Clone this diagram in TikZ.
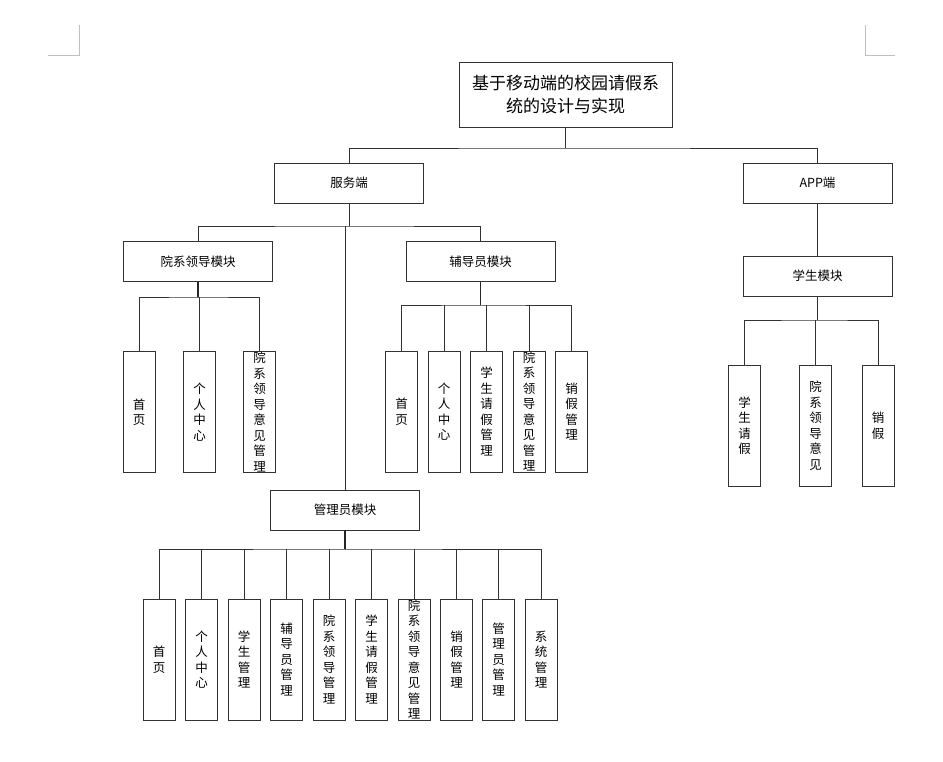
\documentclass[tikz,border=0pt]{standalone}
\usepackage{fontspec}
\newfontfamily\cjk{Noto Sans CJK SC}
\begin{document}
\begin{tikzpicture}[x=1pt,y=-1pt,
  box/.style={draw=black!80, line width=0.9pt, fill=white, minimum width=149pt, minimum height=40pt, inner sep=0pt, font=\cjk\fontsize{12.5}{15}\selectfont},
  rootbox/.style={draw=black!80, line width=0.9pt, fill=white, minimum width=213pt, minimum height=65pt, inner sep=0pt, align=center, font=\cjk\fontsize{17}{22.5}\selectfont},
  leafbox/.style={draw=black!80, line width=0.9pt, minimum width=32pt, minimum height=121pt, inner sep=0pt},
  leaftext/.style={inner sep=0pt, align=center, font=\cjk\fontsize{12.5}{15.5}\selectfont},
  conn/.style={draw=black!80, line width=0.8pt},
  trunk/.style={draw=black!85, line width=1.6pt},
  corner/.style={draw=black!25, line width=0.8pt}]
\useasboundingbox (0,0) rectangle (943,761);
\newcommand{\leafnode}[4]{\node[leafbox] (#1) at (#2,#3) {}; \node[leaftext] at (#1.center) {#4};}
% corner marks
\draw[corner] (79,25) -- (79,55) -- (48,55);
\draw[corner] (865,25) -- (865,55) -- (895,55);
% main nodes
\node[rootbox] (root) at (565.5,94.5) {基于移动端的校园请假系\\统的设计与实现};
\node[box] (fw) at (349,183) {服务端};
\node[box] (app) at (817.5,183) {APP端};
\node[box] (yx) at (198,261.5) {院系领导模块};
\node[box] (fd) at (480.5,261.5) {辅导员模块};
\node[box] (xs) at (817.5,276) {学生模块};
\node[box] (gl) at (345,510) {管理员模块};
% bus coordinates
\coordinate (rootb) at (565.5,148);
\coordinate (fwb) at (349,226);
\coordinate (yxb) at (198,297);
\coordinate (fdb) at (480.5,305);
\coordinate (xsb) at (817.5,320);
\coordinate (glb) at (345,549);
% leaves of yx
\leafnode{y1}{139}{412}{首\\页}
\leafnode{y2}{199.5}{412}{个\\人\\中\\心}
\leafnode{y3}{259.5}{412}{院\\系\\领\\导\\意\\见\\管\\理}
% leaves of fd
\leafnode{f1}{401.5}{411.5}{首\\页}
\leafnode{f2}{444}{411.5}{个\\人\\中\\心}
\leafnode{f3}{486.5}{411.5}{学\\生\\请\\假\\管\\理}
\leafnode{f4}{529}{411.5}{院\\系\\领\\导\\意\\见\\管\\理}
\leafnode{f5}{571.5}{411.5}{销\\假\\管\\理}
% leaves of xs
\leafnode{s1}{744.5}{425.5}{学\\生\\请\\假}
\leafnode{s2}{815.5}{425.5}{院\\系\\领\\导\\意\\见}
\leafnode{s3}{878}{425.5}{销\\假}
% leaves of gl
\leafnode{g1}{159}{659.5}{首\\页}
\leafnode{g2}{201.5}{659.5}{个\\人\\中\\心}
\leafnode{g3}{244}{659.5}{学\\生\\管\\理}
\leafnode{g4}{286.5}{659.5}{辅\\导\\员\\管\\理}
\leafnode{g5}{329}{659.5}{院\\系\\领\\导\\管\\理}
\leafnode{g6}{371.5}{659.5}{学\\生\\请\\假\\管\\理}
\leafnode{g7}{414}{659.5}{院\\系\\领\\导\\意\\见\\管\\理}
\leafnode{g8}{456.5}{659.5}{销\\假\\管\\理}
\leafnode{g9}{498.5}{659.5}{管\\理\\员\\管\\理}
\leafnode{g10}{541}{659.5}{系\\统\\管\\理}
% connectors: root
\draw[conn] (root.south) -- (rootb);
\draw[conn] (fw.north) |- (rootb) -| (app.north);
% fw
\draw[conn] (fw.south) -- (fwb);
\draw[conn] (yx.north) |- (fwb) -| (fd.north);
\draw[conn] (gl.north) -- (gl.north |- fwb);
% app
\draw[conn] (app.south) -- (xs.north);
% yx
\draw[trunk] (yx.south) -- (yxb);
\draw[conn] (y1.north) |- (yxb) -| (y3.north);
\draw[conn] (y2.north) -- (y2.north |- yxb);
% fd
\draw[trunk] (fd.south) -- (fdb);
\draw[conn] (f1.north) |- (fdb) -| (f5.north);
\foreach \n in {f2,f3,f4} \draw[conn] (\n.north) -- (\n.north |- fdb);
% xs
\draw[conn] (xs.south) -- (xsb);
\draw[conn] (s1.north) |- (xsb) -| (s3.north);
\draw[conn] (s2.north) -- (s2.north |- xsb);
% gl
\draw[trunk] (gl.south) -- (glb);
\draw[conn] (g1.north) |- (glb) -| (g10.north);
\foreach \n in {g2,g3,g4,g5,g6,g7,g8,g9} \draw[conn] (\n.north) -- (\n.north |- glb);
\end{tikzpicture}
\end{document}
